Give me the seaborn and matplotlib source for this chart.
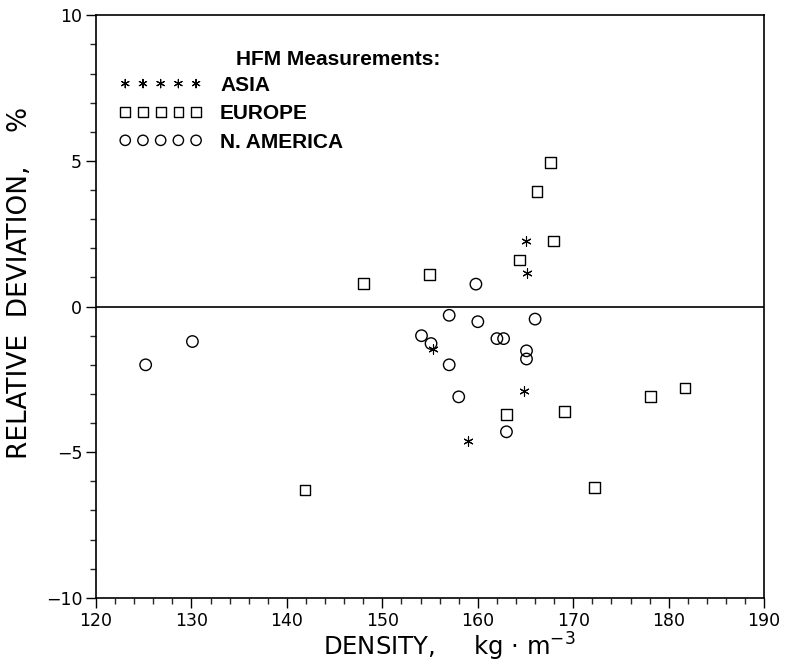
import numpy as np
import matplotlib
matplotlib.use("Agg")
import matplotlib.pyplot as plt
from matplotlib.ticker import MultipleLocator
import seaborn as sns
import pandas as pd

# density (kg/m3) and relative deviation (%)
asia_x = [165.0, 165.1, 155.3, 164.8, 159.0]
asia_y = [2.25, 1.15, -1.45, -2.9, -4.6]

europe_x = [148.0, 154.9, 164.4, 167.9, 166.2, 167.6, 141.9, 163.0, 169.1, 178.1, 181.7, 172.2]
europe_y = [0.8, 1.1, 1.6, 2.25, 3.95, 4.95, -6.3, -3.7, -3.6, -3.1, -2.8, -6.2]

namerica_x = [125.2, 130.1, 154.1, 155.1, 157.0, 160.0, 159.8, 162.0, 162.7,
              165.1, 165.1, 166.0, 157.0, 158.0, 163.0]
namerica_y = [-2.0, -1.2, -1.0, -1.27, -0.3, -0.52, 0.77, -1.1, -1.1,
              -1.52, -1.8, -0.43, -2.0, -3.1, -4.3]

groups = ["ASIA", "EUROPE", "N. AMERICA"]

df = pd.concat([
    pd.DataFrame({"density": asia_x, "dev": asia_y, "region": "ASIA"}),
    pd.DataFrame({"density": europe_x, "dev": europe_y, "region": "EUROPE"}),
    pd.DataFrame({"density": namerica_x, "dev": namerica_y, "region": "N. AMERICA"}),
])

sns.set_style("ticks")
plt.rcParams["font.family"] = ["DejaVu Sans"]
plt.rcParams["text.color"] = "black"
plt.rcParams["axes.labelcolor"] = "black"

fig = plt.figure(figsize=(7.87, 6.65), dpi=100)
ax = fig.add_axes([0.122, 0.101, 0.849, 0.876])

markers = {"ASIA": (6, 2, 0), "EUROPE": "s", "N. AMERICA": "o"}
sizes = {"ASIA": 45, "EUROPE": 60, "N. AMERICA": 68}
faces = {"ASIA": "black", "EUROPE": "none", "N. AMERICA": "none"}
widths = {"ASIA": 0.8, "EUROPE": 1.0, "N. AMERICA": 1.0}
for g in groups:
    sub = df[df["region"] == g]
    sns.scatterplot(data=sub, x="density", y="dev", ax=ax, marker=markers[g],
                    s=sizes[g], facecolor=faces[g], edgecolor="black",
                    linewidth=widths[g], label=g, zorder=3)

ax.axhline(0, color="black", lw=1.2, zorder=1)

ax.set_xlim(120, 190)
ax.set_ylim(-10, 10)
ax.xaxis.set_major_locator(MultipleLocator(10))
ax.xaxis.set_minor_locator(MultipleLocator(2))
ax.yaxis.set_major_locator(MultipleLocator(5))
ax.yaxis.set_minor_locator(MultipleLocator(1))
ax.tick_params(which="major", direction="out", length=7, width=1.0,
               labelsize=12.5, colors="black", pad=3)
ax.tick_params(which="minor", direction="out", length=4, width=1.0)
for sp in ax.spines.values():
    sp.set_visible(True)
    sp.set_linewidth(1.2)
    sp.set_color("black")

ax.set_xlabel("DENSITY,     kg · m$^{-3}$", fontsize=17.5, ha="left")
ax.xaxis.set_label_coords(0.34, -0.056)
ax.set_ylabel("RELATIVE  DEVIATION,    %", fontsize=19)
ax.yaxis.set_label_coords(-0.094, 0.54)

ax.text(0.2096, 0.9245, "HFM Measurements:", transform=ax.transAxes,
        fontsize=15, fontweight="bold", family=["Liberation Sans"], va="center",
        color="black")
leg = ax.legend(loc="upper left", bbox_to_anchor=(0.0344, 0.896),
                scatterpoints=5, scatteryoffsets=[0.5], handlelength=4.0,
                handletextpad=0.85, labelspacing=0.45, frameon=False,
                borderpad=0, borderaxespad=0, markerscale=0.9,
                labelcolor="black",
                prop={"family": "Liberation Sans", "weight": "bold", "size": 15})

fig.savefig("out.png", dpi=100)
